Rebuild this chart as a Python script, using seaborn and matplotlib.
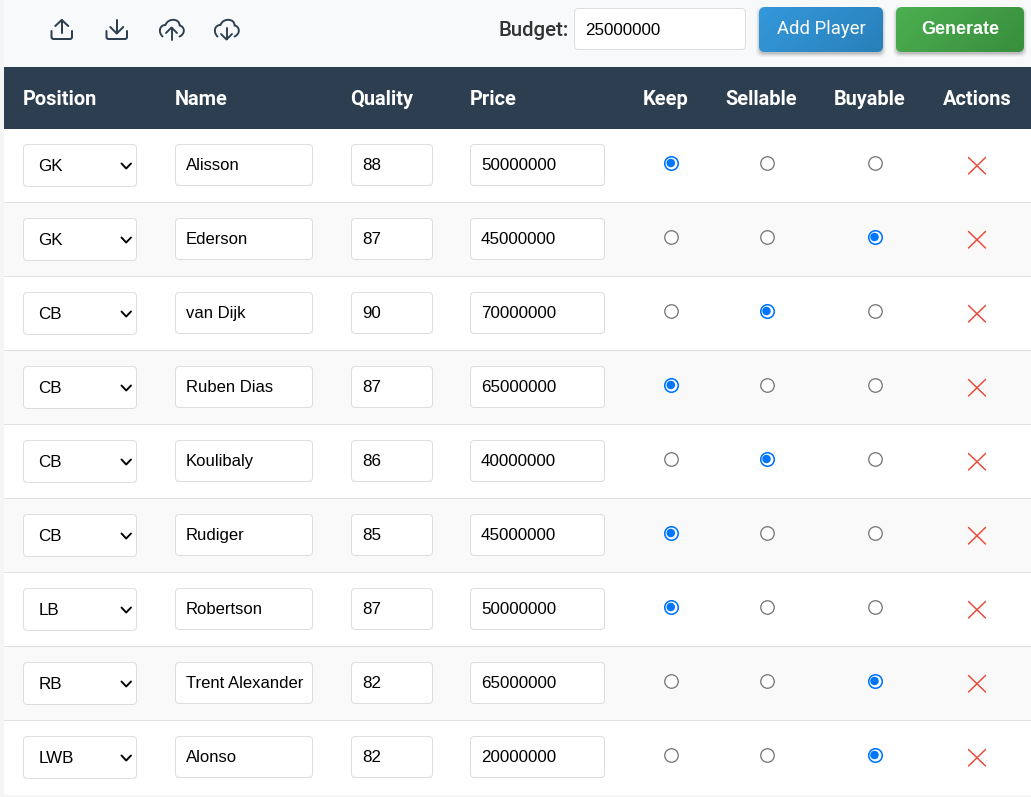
import numpy as np
import pandas as pd
import seaborn as sns
import matplotlib
matplotlib.use("Agg")
import matplotlib.pyplot as plt
from matplotlib.patches import FancyBboxPatch, Rectangle
from matplotlib.path import Path
from matplotlib.patches import PathPatch

positions = ["GK", "GK", "CB", "CB", "CB", "CB", "LB", "RB", "LWB"]
names = ["Alisson", "Ederson", "van Dijk", "Ruben Dias", "Koulibaly", "Rudiger",
         "Robertson", "Trent Alexander", "Alonso"]
quality = [88, 87, 90, 87, 86, 85, 87, 82, 82]
prices = [50000000, 45000000, 70000000, 65000000, 40000000, 45000000,
          50000000, 65000000, 20000000]
status = ["Keep", "Buyable", "Sellable", "Keep", "Sellable", "Keep", "Keep", "Buyable", "Buyable"]
status_cols = ["Keep", "Sellable", "Buyable"]
headers = ["Position", "Name", "Quality", "Price", "Keep", "Sellable", "Buyable", "Actions"]
budget = 25000000

sns.set_theme(style="white")
W, H = 1031, 797
fig = plt.figure(figsize=(W / 100, H / 100), dpi=100, facecolor="#f5f5f5")
ax = fig.add_axes([0, 0, 1, 1])
ax.set_xlim(0, W)
ax.set_ylim(H, 0)
ax.axis("off")

px = 0.72
BODY = "Liberation Sans"
HEAD = "Roboto"
NAVY = "#2c3e50"
ROW0, ROWH = 129, 74


def rrect(x0, y0, x1, y1, r=4, fc="white", ec="#dddddd", lw=1.0, z=3, **kw):
    p = FancyBboxPatch((x0 + r, y0 + r), x1 - x0 - 2 * r, y1 - y0 - 2 * r,
                       boxstyle=f"round,pad={r},rounding_size={r}",
                       fc=fc, ec=ec, lw=lw * px, zorder=z, mutation_aspect=1, **kw)
    ax.add_patch(p)
    return p


def stroke(verts, codes=None, color=NAVY, lw=2.0, z=5):
    if codes is None:
        codes = [Path.MOVETO] + [Path.LINETO] * (len(verts) - 1)
    ax.add_patch(PathPatch(Path(verts, codes), fc="none", ec=color, lw=lw * px, zorder=z,
                           capstyle="round", joinstyle="round"))


# background bands
ax.add_patch(Rectangle((4, 0), W - 4, 67, fc="#f8f9fa", ec="none", zorder=1))
ax.add_patch(Rectangle((4, 67), W - 4, ROW0 - 67, fc=NAVY, ec="none", zorder=1))
for i in range(len(names)):
    y0 = ROW0 + i * ROWH
    ax.add_patch(Rectangle((4, y0), W - 4, ROWH, fc="white" if i % 2 == 0 else "#f9f9f9",
                           ec="none", zorder=1))
    if i < len(names) - 1:
        ax.plot([4, W], [y0 + ROWH - 1.5] * 2, color="#e0e0e0", lw=1 * px, zorder=2)

# header
head_x = [23, 175, 350.5, 470, 643, 725, 834, 942.5]
for x, t in zip(head_x, headers):
    ax.text(x, 105, t, color="white", fontsize=20 * px, family=HEAD, fontweight="bold", va="baseline", zorder=4)

# rows
for i in range(len(names)):
    dy = i * ROWH
    rrect(23.5, 144.5 + dy, 136.5, 186.5 + dy)
    rrect(175.5, 144.5 + dy, 312.5, 185.5 + dy)
    rrect(351.5, 144.5 + dy, 432.5, 185.5 + dy)
    rrect(470.5, 144.5 + dy, 604.5, 185.5 + dy)
    ax.text(38.5, 171 + dy, positions[i], fontsize=17 * px, family=BODY, color="black", va="baseline", zorder=4)
    ax.text(186, 170 + dy, names[i], fontsize=16.6 * px, family=BODY, color="black", va="baseline", zorder=4)
    ax.text(362, 170 + dy, str(quality[i]), fontsize=17 * px, family=BODY, color="black", va="baseline", zorder=4)
    ax.text(481, 170 + dy, str(prices[i]), fontsize=17 * px, family=BODY, color="black", va="baseline", zorder=4)
    # chevron
    stroke([(121.5, 163.5 + dy), (126.2, 168.5 + dy), (131, 163.5 + dy)], color="black", lw=1.9)
    # delete cross
    stroke([(968.5, 157.5 + dy), (985.5, 174 + dy)], color="#e74c3c", lw=1.5)
    stroke([(985.5, 157.5 + dy), (968.5, 174 + dy)], color="#e74c3c", lw=1.5)

# radio buttons through seaborn
col_x = dict(zip(status_cols, [670.8, 766.5, 874.5]))
records = []
for i, s in enumerate(status):
    for c in status_cols:
        records.append({"x": col_x[c], "y": 163 + i * ROWH, "on": c == s})
radio = pd.DataFrame(records)
off = radio[~radio["on"]]
on = radio[radio["on"]]
sns.scatterplot(data=off, x="x", y="y", s=(13.5 * px) ** 2, color="white", edgecolor="#767676",
                linewidth=1.3 * px, ax=ax, zorder=5, legend=False)
sns.scatterplot(data=on, x="x", y="y", s=(13.5 * px) ** 2, color="white", edgecolor="#0075ff",
                linewidth=1.6 * px, ax=ax, zorder=5, legend=False)
sns.scatterplot(data=on, x="x", y="y", s=(8.5 * px) ** 2, color="#0075ff", edgecolor="none",
                linewidth=0, ax=ax, zorder=6, legend=False)
ax.set_xlim(0, W)
ax.set_ylim(H, 0)
ax.set_xlabel("")
ax.set_ylabel("")

# toolbar: budget
ax.text(499, 36, "Budget:", fontsize=20.4 * px, family=HEAD, fontweight="medium", color="#333333", va="baseline", zorder=4)
rrect(574.5, 8.5, 745.5, 49.5)
ax.text(585, 35, str(budget), fontsize=17 * px, family=BODY, color="black", va="baseline", zorder=4)


def gradient_button(x0, y0, x1, y1, c0, c1, label, size, weight, family):
    for k, a in zip((4, 3, 2, 1), (0.03, 0.05, 0.07, 0.09)):
        rrect(x0 - k + 1, y0 + 2 - k + 2, x1 + k - 1, y1 + k + 1, r=6, fc="black", ec="none", z=2, alpha=a)
    clip = rrect(x0, y0, x1, y1, r=6, fc="none", ec="none", z=3)
    xs = np.linspace(0, 1, 64)
    ys = np.linspace(0, 1, 64)
    t = (xs[None, :] * (x1 - x0) + ys[:, None] * (y1 - y0)) / ((x1 - x0) + (y1 - y0))
    rgb0 = np.array(matplotlib.colors.to_rgb(c0))
    rgb1 = np.array(matplotlib.colors.to_rgb(c1))
    img = rgb0 + (rgb1 - rgb0) * t[..., None]
    im = ax.imshow(img, extent=(x0, x1, y1, y0), zorder=3, aspect="auto", interpolation="bilinear")
    im.set_clip_path(clip)
    ax.text((x0 + x1) / 2, 34, label, color="white", fontsize=size * px,
            family=family, fontweight=weight, ha="center", va="baseline", zorder=4)


gradient_button(759, 7, 883, 52, "#3498db", "#2980b9", "Add Player", 18.5, "normal", HEAD)
gradient_button(896, 7, 1024, 52, "#4caf50", "#388e3c", "Generate", 17.9, "bold", BODY)
ax.set_xlim(0, W)
ax.set_ylim(H, 0)

# toolbar icons
C3 = Path.CURVE3
for off_x, up in ((0, True), (55, False)):
    L, R = 51.5 + off_x, 72 + off_x
    M = (L + R) / 2
    stroke([(L, 31), (L, 37), (L, 39), (L + 2, 39), (R - 2, 39), (R, 39), (R, 37), (R, 31)],
           [Path.MOVETO, Path.LINETO, C3, C3, Path.LINETO, C3, C3, Path.LINETO])
    if up:
        stroke([(M, 33), (M, 20)])
        stroke([(M - 6.5, 26), (M, 20), (M + 6.5, 26)])
    else:
        stroke([(M, 20), (M, 33)])
        stroke([(M - 6.5, 27), (M, 33.5), (M + 6.5, 27)])

C4 = Path.CURVE4
for off_x, up in ((0, True), (55, False)):
    o = off_x
    verts = [(162.5 + o, 36.5), (158 + o, 32), (159.5 + o, 25), (165.5 + o, 25),
             (168 + o, 17.5), (180 + o, 18.5), (179.5 + o, 25.5),
             (185 + o, 26.5), (185.5 + o, 34), (179.5 + o, 36.5)]
    codes = [Path.MOVETO, C4, C4, C4, C4, C4, C4, C4, C4, C4]
    stroke(verts, codes, lw=1.9)
    M = 171.5 + o
    if up:
        stroke([(M, 39.5), (M, 28)], lw=1.9)
        stroke([(M - 5.5, 33), (M, 27.5), (M + 5.5, 33)], lw=1.9)
    else:
        stroke([(M, 28), (M, 39)], lw=1.9)
        stroke([(M - 5.5, 34), (M, 39.5), (M + 5.5, 34)], lw=1.9)

fig.savefig("out.png", dpi=100, facecolor=fig.get_facecolor())
